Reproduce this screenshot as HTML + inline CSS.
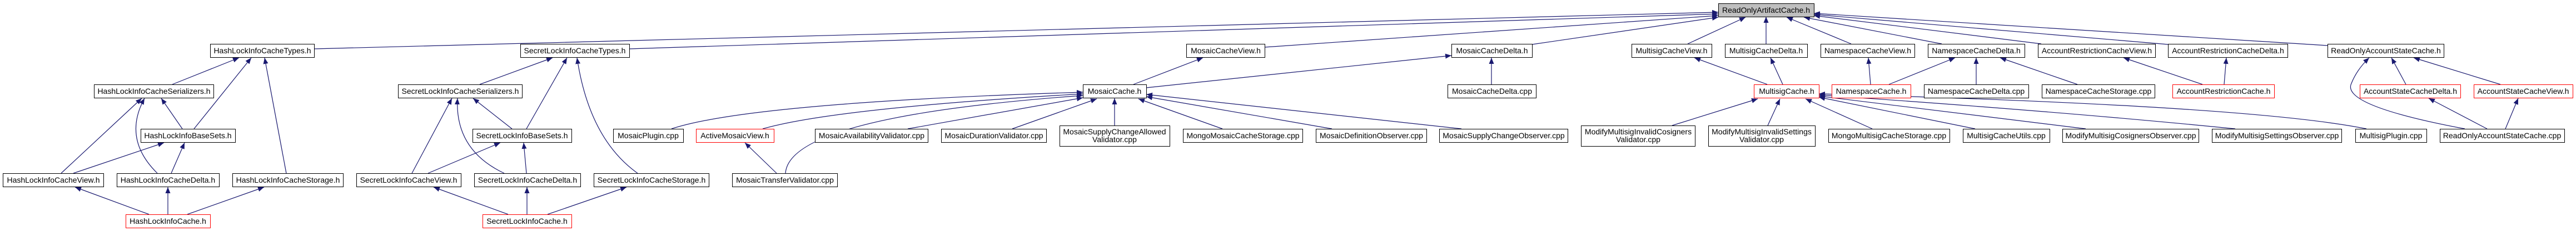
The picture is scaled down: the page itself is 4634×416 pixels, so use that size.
<!DOCTYPE html>
<html><head><meta charset="utf-8"><style>
html,body{margin:0;padding:0;background:#fff;}
svg{display:block;}
text{font-family:"Liberation Sans",Arial,sans-serif;font-size:14px;fill:#000;}
.e{stroke:#191970;stroke-width:1.2;fill:none;marker-end:url(#a);}
.n{fill:#fff;stroke:#000;stroke-width:1;}
.r{fill:#fff;stroke:#ff0000;stroke-width:1;}
</style></head><body>
<svg width="4634" height="416" viewBox="0 0 4634 416" xmlns="http://www.w3.org/2000/svg">
<defs><marker id="a" markerUnits="userSpaceOnUse" markerWidth="12" markerHeight="10" refX="11" refY="4.5" orient="auto"><path d="M0,0 L11,4.5 L0,9 z" fill="#191970"/></marker></defs>
<g>
<!-- edges to ReadOnlyArtifactCache -->
<path class="e" d="M565,88 L3091,22"/>
<path class="e" d="M1132,88 L3091,25"/>
<path class="e" d="M2275,85 L3091,28"/>
<path class="e" d="M2756,80 L3091,31"/>
<path class="e" d="M3036,79 L3140,31"/>
<path class="e" d="M3177,79 L3177,30"/>
<path class="e" d="M3330,79 L3214,31"/>
<path class="e" d="M3493,79 L3245,31"/>
<path class="e" d="M3672,79 L3263,28"/>
<path class="e" d="M3900,80 L3263,26"/>
<path class="e" d="M4187,82 L3263,24"/>
<!-- HashLock -->
<path class="e" d="M310,152 L430,104"/>
<path class="e" d="M349,232 L452,104"/>
<path class="e" d="M515,312 L476,104"/>
<path class="e" d="M110,312 L255,177"/>
<path class="e" d="M283,312 Q220,250 260,177"/>
<path class="e" d="M328,232 L290,177"/>
<path class="e" d="M132,312 L295,257"/>
<path class="e" d="M308,312 L332,257"/>
<path class="e" d="M268,386 L135,337"/>
<path class="e" d="M302,386 L302,337"/>
<path class="e" d="M337,386 L475,337"/>
<!-- SecretLock -->
<path class="e" d="M863,152 L994,104"/>
<path class="e" d="M947,232 L1020,104"/>
<path class="e" d="M1147,312 Q1060,250 1038,104"/>
<path class="e" d="M741,312 L813,177"/>
<path class="e" d="M907,312 Q818,270 823,177"/>
<path class="e" d="M921,232 L851,177"/>
<path class="e" d="M770,312 L900,257"/>
<path class="e" d="M947,312 L942,257"/>
<path class="e" d="M914,386 L780,337"/>
<path class="e" d="M948,386 L948,337"/>
<path class="e" d="M985,386 L1127,337"/>
<!-- Mosaic -->
<path class="e" d="M2039,152 L2164,104"/>
<path class="e" d="M2062,158 L2611,100"/>
<path class="e" d="M2683,152 L2683,104"/>
<path class="e" d="M1208,232 Q1350,185 1948,166"/>
<path class="e" d="M1372,232 Q1500,195 1948,169"/>
<path class="e" d="M1413,312 Q1420,210 1948,172"/>
<path class="e" d="M1633,232 L1948,176"/>
<path class="e" d="M1821,232 L1973,178"/>
<path class="e" d="M2005,226 L2005,177"/>
<path class="e" d="M2199,232 L2048,178"/>
<path class="e" d="M2396,232 L2062,174"/>
<path class="e" d="M2629,232 L2062,170"/>
<path class="e" d="M1397,312 L1340,257"/>
<!-- Multisig -->
<path class="e" d="M3179,152 L3048,104"/>
<path class="e" d="M3207,152 L3185,104"/>
<path class="e" d="M3008,226 L3162,178"/>
<path class="e" d="M3180,226 L3202,178"/>
<path class="e" d="M3368,232 L3248,178"/>
<path class="e" d="M3553,232 L3272,175"/>
<path class="e" d="M3752,232 L3272,173"/>
<path class="e" d="M4021,232 Q3700,200 3272,171"/>
<path class="e" d="M4257,232 Q4050,190 3272,169"/>
<!-- Namespace -->
<path class="e" d="M3365,152 L3361,104"/>
<path class="e" d="M3398,152 L3517,104"/>
<path class="e" d="M3555,152 L3555,104"/>
<path class="e" d="M3737,152 L3598,104"/>
<!-- Account restriction -->
<path class="e" d="M3962,152 L3820,104"/>
<path class="e" d="M4001,152 L4005,104"/>
<!-- Account state -->
<path class="e" d="M4328,152 L4302,104"/>
<path class="e" d="M4498,152 L4342,104"/>
<path class="e" d="M4434,232 Q4210,190 4230,150 Q4240,125 4262,104"/>
<path class="e" d="M4474,232 L4369,177"/>
<path class="e" d="M4507,232 L4530,177"/>
</g>
<g>
<rect x="3091.5" y="6.5" width="172" height="24" fill="#bfbfbf" stroke="#000"/><text x="3177" y="23" text-anchor="middle">ReadOnlyArtifactCache.h</text>
<!-- row1 -->
<rect class="n" x="378.5" y="79.5" width="187" height="24"/><text x="472" y="96" text-anchor="middle">HashLockInfoCacheTypes.h</text>
<rect class="n" x="936.5" y="79.5" width="196" height="24"/><text x="1034" y="96" text-anchor="middle">SecretLockInfoCacheTypes.h</text>
<rect class="n" x="2134.5" y="79.5" width="141" height="24"/><text x="2205" y="96" text-anchor="middle">MosaicCacheView.h</text>
<rect class="n" x="2611.5" y="79.5" width="145" height="24"/><text x="2684" y="96" text-anchor="middle">MosaicCacheDelta.h</text>
<rect class="n" x="2935.5" y="79.5" width="144" height="24"/><text x="3007" y="96" text-anchor="middle">MultisigCacheView.h</text>
<rect class="n" x="3103.5" y="79.5" width="148" height="24"/><text x="3177" y="96" text-anchor="middle">MultisigCacheDelta.h</text>
<rect class="n" x="3275.5" y="79.5" width="169" height="24"/><text x="3360" y="96" text-anchor="middle">NamespaceCacheView.h</text>
<rect class="n" x="3468.5" y="79.5" width="174" height="24"/><text x="3555" y="96" text-anchor="middle">NamespaceCacheDelta.h</text>
<rect class="n" x="3666.5" y="79.5" width="211" height="24"/><text x="3772" y="96" text-anchor="middle">AccountRestrictionCacheView.h</text>
<rect class="n" x="3900.5" y="79.5" width="215" height="24"/><text x="4008" y="96" text-anchor="middle">AccountRestrictionCacheDelta.h</text>
<rect class="n" x="4187.5" y="79.5" width="209" height="24"/><text x="4292" y="96" text-anchor="middle">ReadOnlyAccountStateCache.h</text>
<!-- row2 -->
<rect class="n" x="169.5" y="152.5" width="215" height="24"/><text x="277" y="169" text-anchor="middle">HashLockInfoCacheSerializers.h</text>
<rect class="n" x="716.5" y="152.5" width="223" height="24"/><text x="828" y="169" text-anchor="middle">SecretLockInfoCacheSerializers.h</text>
<rect class="n" x="1948.5" y="152.5" width="114" height="24"/><text x="2005" y="169" text-anchor="middle">MosaicCache.h</text>
<rect class="n" x="2604.5" y="152.5" width="159" height="24"/><text x="2684" y="169" text-anchor="middle">MosaicCacheDelta.cpp</text>
<rect class="r" x="3155.5" y="152.5" width="117" height="24"/><text x="3214" y="169" text-anchor="middle">MultisigCache.h</text>
<rect class="r" x="3295.5" y="152.5" width="142" height="24"/><text x="3366" y="169" text-anchor="middle">NamespaceCache.h</text>
<rect class="n" x="3461.5" y="152.5" width="188" height="24"/><text x="3555" y="169" text-anchor="middle">NamespaceCacheDelta.cpp</text>
<rect class="n" x="3673.5" y="152.5" width="203" height="24"/><text x="3775" y="169" text-anchor="middle">NamespaceCacheStorage.cpp</text>
<rect class="r" x="3908.5" y="152.5" width="183" height="24"/><text x="4000" y="169" text-anchor="middle">AccountRestrictionCache.h</text>
<rect class="r" x="4245.5" y="152.5" width="181" height="24"/><text x="4336" y="169" text-anchor="middle">AccountStateCacheDelta.h</text>
<rect class="r" x="4450.5" y="152.5" width="178" height="24"/><text x="4539" y="169" text-anchor="middle">AccountStateCacheView.h</text>
<!-- row3 -->
<rect class="n" x="253.5" y="232.5" width="170" height="24"/><text x="338" y="249" text-anchor="middle">HashLockInfoBaseSets.h</text>
<rect class="n" x="850.5" y="232.5" width="178" height="24"/><text x="939" y="249" text-anchor="middle">SecretLockInfoBaseSets.h</text>
<rect class="n" x="1103.5" y="232.5" width="126" height="24"/><text x="1166" y="249" text-anchor="middle">MosaicPlugin.cpp</text>
<rect class="r" x="1252.5" y="232.5" width="140" height="24"/><text x="1322" y="249" text-anchor="middle">ActiveMosaicView.h</text>
<rect class="n" x="1466.5" y="232.5" width="203" height="24"/><text x="1568" y="249" text-anchor="middle">MosaicAvailabilityValidator.cpp</text>
<rect class="n" x="1693.5" y="232.5" width="189" height="24"/><text x="1788" y="249" text-anchor="middle">MosaicDurationValidator.cpp</text>
<rect class="n" x="1906.5" y="226.5" width="198" height="37"/><text x="2005" y="242" text-anchor="middle">MosaicSupplyChangeAllowed</text><text x="2005" y="256" text-anchor="middle">Validator.cpp</text>
<rect class="n" x="2128.5" y="232.5" width="215" height="24"/><text x="2236" y="249" text-anchor="middle">MongoMosaicCacheStorage.cpp</text>
<rect class="n" x="2367.5" y="232.5" width="199" height="24"/><text x="2467" y="249" text-anchor="middle">MosaicDefinitionObserver.cpp</text>
<rect class="n" x="2589.5" y="232.5" width="231" height="24"/><text x="2705" y="249" text-anchor="middle">MosaicSupplyChangeObserver.cpp</text>
<rect class="n" x="2844.5" y="226.5" width="205" height="37"/><text x="2947" y="242" text-anchor="middle">ModifyMultisigInvalidCosigners</text><text x="2947" y="256" text-anchor="middle">Validator.cpp</text>
<rect class="n" x="3073.5" y="226.5" width="192" height="37"/><text x="3169" y="242" text-anchor="middle">ModifyMultisigInvalidSettings</text><text x="3169" y="256" text-anchor="middle">Validator.cpp</text>
<rect class="n" x="3289.5" y="232.5" width="218" height="24"/><text x="3398" y="249" text-anchor="middle">MongoMultisigCacheStorage.cpp</text>
<rect class="n" x="3531.5" y="232.5" width="156" height="24"/><text x="3609" y="249" text-anchor="middle">MultisigCacheUtils.cpp</text>
<rect class="n" x="3710.5" y="232.5" width="245" height="24"/><text x="3833" y="249" text-anchor="middle">ModifyMultisigCosignersObserver.cpp</text>
<rect class="n" x="3979.5" y="232.5" width="233" height="24"/><text x="4096" y="249" text-anchor="middle">ModifyMultisigSettingsObserver.cpp</text>
<rect class="n" x="4237.5" y="232.5" width="128" height="24"/><text x="4301" y="249" text-anchor="middle">MultisigPlugin.cpp</text>
<rect class="n" x="4389.5" y="232.5" width="224" height="24"/><text x="4501" y="249" text-anchor="middle">ReadOnlyAccountStateCache.cpp</text>
<!-- row4 -->
<rect class="n" x="5.5" y="312.5" width="181" height="24"/><text x="96" y="329" text-anchor="middle">HashLockInfoCacheView.h</text>
<rect class="n" x="210.5" y="312.5" width="184" height="24"/><text x="302" y="329" text-anchor="middle">HashLockInfoCacheDelta.h</text>
<rect class="n" x="418.5" y="312.5" width="199" height="24"/><text x="518" y="329" text-anchor="middle">HashLockInfoCacheStorage.h</text>
<rect class="n" x="641.5" y="312.5" width="188" height="24"/><text x="735" y="329" text-anchor="middle">SecretLockInfoCacheView.h</text>
<rect class="n" x="853.5" y="312.5" width="191" height="24"/><text x="949" y="329" text-anchor="middle">SecretLockInfoCacheDelta.h</text>
<rect class="n" x="1068.5" y="312.5" width="207" height="24"/><text x="1172" y="329" text-anchor="middle">SecretLockInfoCacheStorage.h</text>
<rect class="n" x="1317.5" y="312.5" width="189" height="24"/><text x="1412" y="329" text-anchor="middle">MosaicTransferValidator.cpp</text>
<!-- row5 -->
<rect class="r" x="226.5" y="386.5" width="152" height="24"/><text x="302" y="403" text-anchor="middle">HashLockInfoCache.h</text>
<rect class="r" x="868.5" y="386.5" width="160" height="24"/><text x="948" y="403" text-anchor="middle">SecretLockInfoCache.h</text>
</g>
</svg>
</body></html>
